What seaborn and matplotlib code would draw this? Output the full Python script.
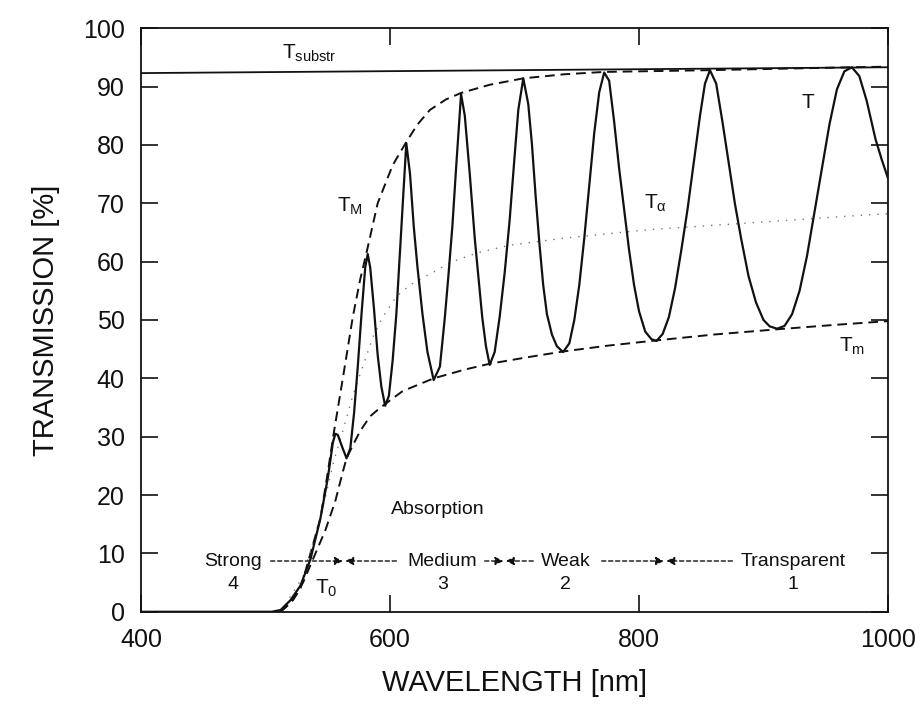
import numpy as np
import pandas as pd
import seaborn as sns
import matplotlib.pyplot as plt

# transmission spectrum T (solid)
wl_T = [400, 505, 512, 520, 528, 536, 544, 550, 554, 556, 558, 561, 565, 568, 571,
        574, 577, 580, 582, 584, 587, 590, 593, 596, 599, 602, 605, 608, 611, 613,
        616, 619, 622, 626, 630, 635, 640, 644, 647, 650, 653, 657, 660, 664, 668,
        672, 674, 677, 680, 684, 688, 692, 696, 700, 703, 707, 711, 714, 717, 720,
        723, 726, 730, 734, 739, 744, 748, 752, 756, 760, 764, 768, 772, 776, 780,
        784, 788, 792, 796, 800, 805, 810, 814, 819, 824, 829, 834, 839, 844, 849,
        853, 857, 862, 867, 872, 877, 882, 888, 894, 900, 905, 911, 917, 923, 929,
        935, 941, 947, 953, 959, 965, 971, 977, 983, 990, 995, 1000]
T_vals = [0, 0, 0.3, 2, 4.5, 9, 16, 23, 29, 30.5, 30.3, 28.5, 26.3, 28, 34,
          42, 51, 59, 61.3, 59, 52, 44, 38.5, 35.3, 37, 43, 51, 62, 73, 80.3,
          75, 66, 59, 51, 44.5, 39.7, 42, 50.5, 58, 66, 76, 88.7, 85, 75, 64,
          55, 50.5, 45.5, 42.3, 44.5, 50.5, 58, 67, 78, 86, 91.4, 87, 80, 71, 63,
          56, 51, 47.5, 45.5, 44.5, 46, 50, 56, 64, 73, 82, 89, 92.4, 91, 84,
          76, 69, 62, 56, 51.5, 48, 46.7, 46.4, 47.6, 50.5, 55.5, 62, 69, 77, 85,
          90.5, 92.8, 90.5, 84, 77, 70, 64, 57.5, 53, 50, 48.9, 48.5, 49, 51, 55,
          61, 68.5, 76, 83.5, 89.5, 92.6, 93.3, 91.8, 87.5, 81, 77.5, 74.3]

# upper envelope T_M (dashed)
wl_TM = [512, 522, 528, 536, 544, 550, 555, 562, 570, 576, 581, 590, 602, 613, 622,
         632, 645, 657, 680, 707, 740, 772, 856, 971, 1000]
TM_vals = [0, 2, 4, 10, 16, 24, 31, 40, 50.5, 57, 61.5, 70, 76.5, 80.5, 83.5,
           86, 87.8, 88.9, 90.3, 91.4, 92.1, 92.5, 92.8, 93.3, 93.4]

# lower envelope T_m (dashed)
wl_Tm = [512, 520, 530, 540, 548, 556, 562, 565, 570, 576, 584, 590, 596, 610, 635,
         660, 680, 710, 739, 775, 814, 860, 911, 960, 1000]
Tm_vals = [0, 1.5, 5, 10, 14, 19, 24, 26.3, 28.5, 31, 33.5, 34.6, 35.6, 37.8, 40,
           41.5, 42.5, 43.6, 44.6, 45.6, 46.5, 47.5, 48.4, 49.2, 49.8]

# T_alpha (dotted)
wl_Ta = [512, 530, 545, 555, 562, 570, 578, 586, 594, 605, 616, 628, 650, 670, 696,
         739, 809, 880, 983, 1000]
Ta_vals = [0, 6, 17, 26, 31, 37, 42, 47, 50.5, 54, 56, 57.4, 60, 61.5, 62.8,
           64, 65.5, 66.5, 68, 68.2]

# substrate transmission
wl_sub = [400, 1000]
sub_vals = [92.3, 93.3]

# absorption regions
region_names = ['Strong', 'Medium', 'Weak', 'Transparent']
region_nums = ['4', '3', '2', '1']
region_text_x = [474, 642, 741, 924]
region_edges = [563, 692, 821]

sns.set_style('ticks')
plt.rcParams['font.family'] = ['Liberation Sans', 'DejaVu Sans']
plt.rcParams['mathtext.fontset'] = 'custom'
plt.rcParams['mathtext.rm'] = 'Liberation Sans'
plt.rcParams['mathtext.it'] = 'Liberation Sans'

fig = plt.figure(figsize=(9.23, 7.04), dpi=100)
ax = fig.add_axes([0.153, 0.131, 0.809, 0.829])

ink = '#111111'
sns.lineplot(x=wl_sub, y=sub_vals, ax=ax, color=ink, lw=1.3)
sns.lineplot(x=wl_TM, y=TM_vals, ax=ax, color=ink, lw=1.4, linestyle=(0, (5, 3)))
sns.lineplot(x=wl_Tm, y=Tm_vals, ax=ax, color=ink, lw=1.4, linestyle=(0, (5, 3)))
sns.lineplot(x=wl_Ta, y=Ta_vals, ax=ax, color='#777777', lw=1.0, linestyle=(0, (1, 5)))
sns.lineplot(x=wl_T, y=T_vals, ax=ax, color=ink, lw=1.6)

ax.set_xlim(400, 1000)
ax.set_ylim(0, 100)
ax.set_xticks([400, 600, 800, 1000])
ax.set_yticks(np.arange(0, 101, 10))
ax.tick_params(direction='in', length=12, width=1.2, labelsize=18, colors=ink,
               top=True, right=True)
ax.tick_params(axis='y', pad=12)
ax.tick_params(axis='x', pad=12)
for s in ax.spines.values():
    s.set_linewidth(1.3)
    s.set_color(ink)

ax.set_xlabel('WAVELENGTH [nm]', fontsize=21, color=ink, labelpad=12)
ax.set_ylabel('TRANSMISSION [%]', fontsize=21, color=ink, labelpad=16)

# curve labels
ax.text(535, 95.7, r'T$_{\mathrm{substr}}$', fontsize=15, ha='center', va='center', color=ink)
ax.text(568, 69.5, r'T$_{\mathrm{M}}$', fontsize=15, ha='center', va='center', color=ink)
ax.text(813, 70, r'T$_{\alpha}$', fontsize=15, ha='center', va='center', color=ink)
ax.text(936, 87.3, 'T', fontsize=15, ha='center', va='center', color=ink)
ax.text(971, 45.5, r'T$_{\mathrm{m}}$', fontsize=15, ha='center', va='center', color=ink)
ax.text(549, 4.0, r'T$_{\mathrm{0}}$', fontsize=15, ha='center', va='center', color=ink)
ax.text(638, 17.5, 'Absorption', fontsize=14, ha='center', va='center', color=ink)

for name, num, xt in zip(region_names, region_nums, region_text_x):
    ax.text(xt, 8.7, name, fontsize=14, ha='center', va='center', color=ink)
    ax.text(xt, 4.6, num, fontsize=14, ha='center', va='center', color=ink)

arrow_kw = dict(arrowstyle='-|>', color=ink, lw=1.0, linestyle=(0, (3, 2)),
                mutation_scale=12, shrinkA=0, shrinkB=0)
# (start, end) of each dashed arrow, arrow head at the end
arrow_spans = [(504, region_edges[0] - 1), (605, region_edges[0] + 1),
               (676, region_edges[1] - 1), (715, region_edges[1] + 1),
               (770, region_edges[2] - 1), (875, region_edges[2] + 1)]
for x0, x1 in arrow_spans:
    ax.annotate('', xy=(x1, 8.7), xytext=(x0, 8.7), arrowprops=arrow_kw)

fig.savefig('out.png', dpi=100)
